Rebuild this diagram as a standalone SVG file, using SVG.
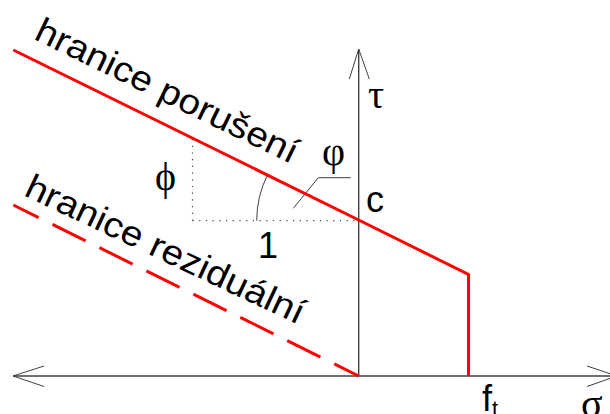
<svg xmlns="http://www.w3.org/2000/svg" width="610" height="414" viewBox="0 0 610 414">
<style>
.axis{stroke:#404040;stroke-width:1.4;fill:none}
.head{stroke:#404040;stroke-width:1;fill:none}
.red{stroke:#ff0000;stroke-width:3;fill:none}
.dot{stroke:#404040;stroke-width:1.2;fill:none;stroke-dasharray:1.2 5.5}
.thin{stroke:#404040;stroke-width:1;fill:none}
.sans{font-family:"Liberation Sans",Arial,sans-serif;fill:#000}
.greek{font-family:"Liberation Serif","DejaVu Serif",serif;fill:#000}
</style>
<rect width="610" height="414" fill="#fff"/>
<g id="axes">
  <line class="axis" x1="13" y1="376" x2="617" y2="376"/>
  <line class="axis" x1="358.7" y1="49" x2="358.7" y2="376"/>
  <polyline class="head" points="44,366 13,376 44,386.5"/>
  <polyline class="head" points="587,366 617,376 587,386.5"/>
  <polyline class="head" points="349.3,79 358.7,49 369.3,79"/>
</g>
<g id="construction">
  <line class="dot" x1="192.5" y1="139" x2="192.5" y2="220.7"/>
  <line class="dot" x1="192.5" y1="220.7" x2="358" y2="220.7"/>
  <path class="thin" d="M256.7,220.7 A102,102 0 0 1 267.3,175.3"/>
  <polyline class="thin" points="293.3,208.3 318.3,177.7 350.7,177.7"/>
</g>
<g id="failure-boundary">
  <polyline class="red" points="13.3,50 358.7,220 468.5,274.5 468.5,376"/>
</g>
<g id="residual-boundary">
  <line class="red" x1="13.3" y1="205" x2="358.7" y2="376" stroke-dasharray="37 15.4" stroke-dashoffset="8.7"/>
</g>
<g id="labels">
  <text class="sans" font-size="35" textLength="287.5" lengthAdjust="spacingAndGlyphs" transform="translate(32.8,38.6) rotate(25.9)">hranice porušení</text>
  <text class="sans" font-size="35" textLength="304.6" lengthAdjust="spacingAndGlyphs" transform="translate(22.7,195.1) rotate(25.2)">hranice reziduální</text>
  <text class="sans" font-size="36" x="258" y="258">1</text>
  <text class="sans" font-size="36" x="366" y="212">c</text>
  <text class="sans" font-size="36" x="482" y="411">f<tspan font-size="22" dy="5">t</tspan></text>
  <text class="greek" font-size="40" x="155" y="189.5">ϕ</text>
  <text class="greek" font-size="40" x="322" y="165.3">φ</text>
  <text class="greek" font-size="40" x="368" y="108">τ</text>
  <text class="greek" font-size="40" x="581" y="416.5">σ</text>
</g>
</svg>
